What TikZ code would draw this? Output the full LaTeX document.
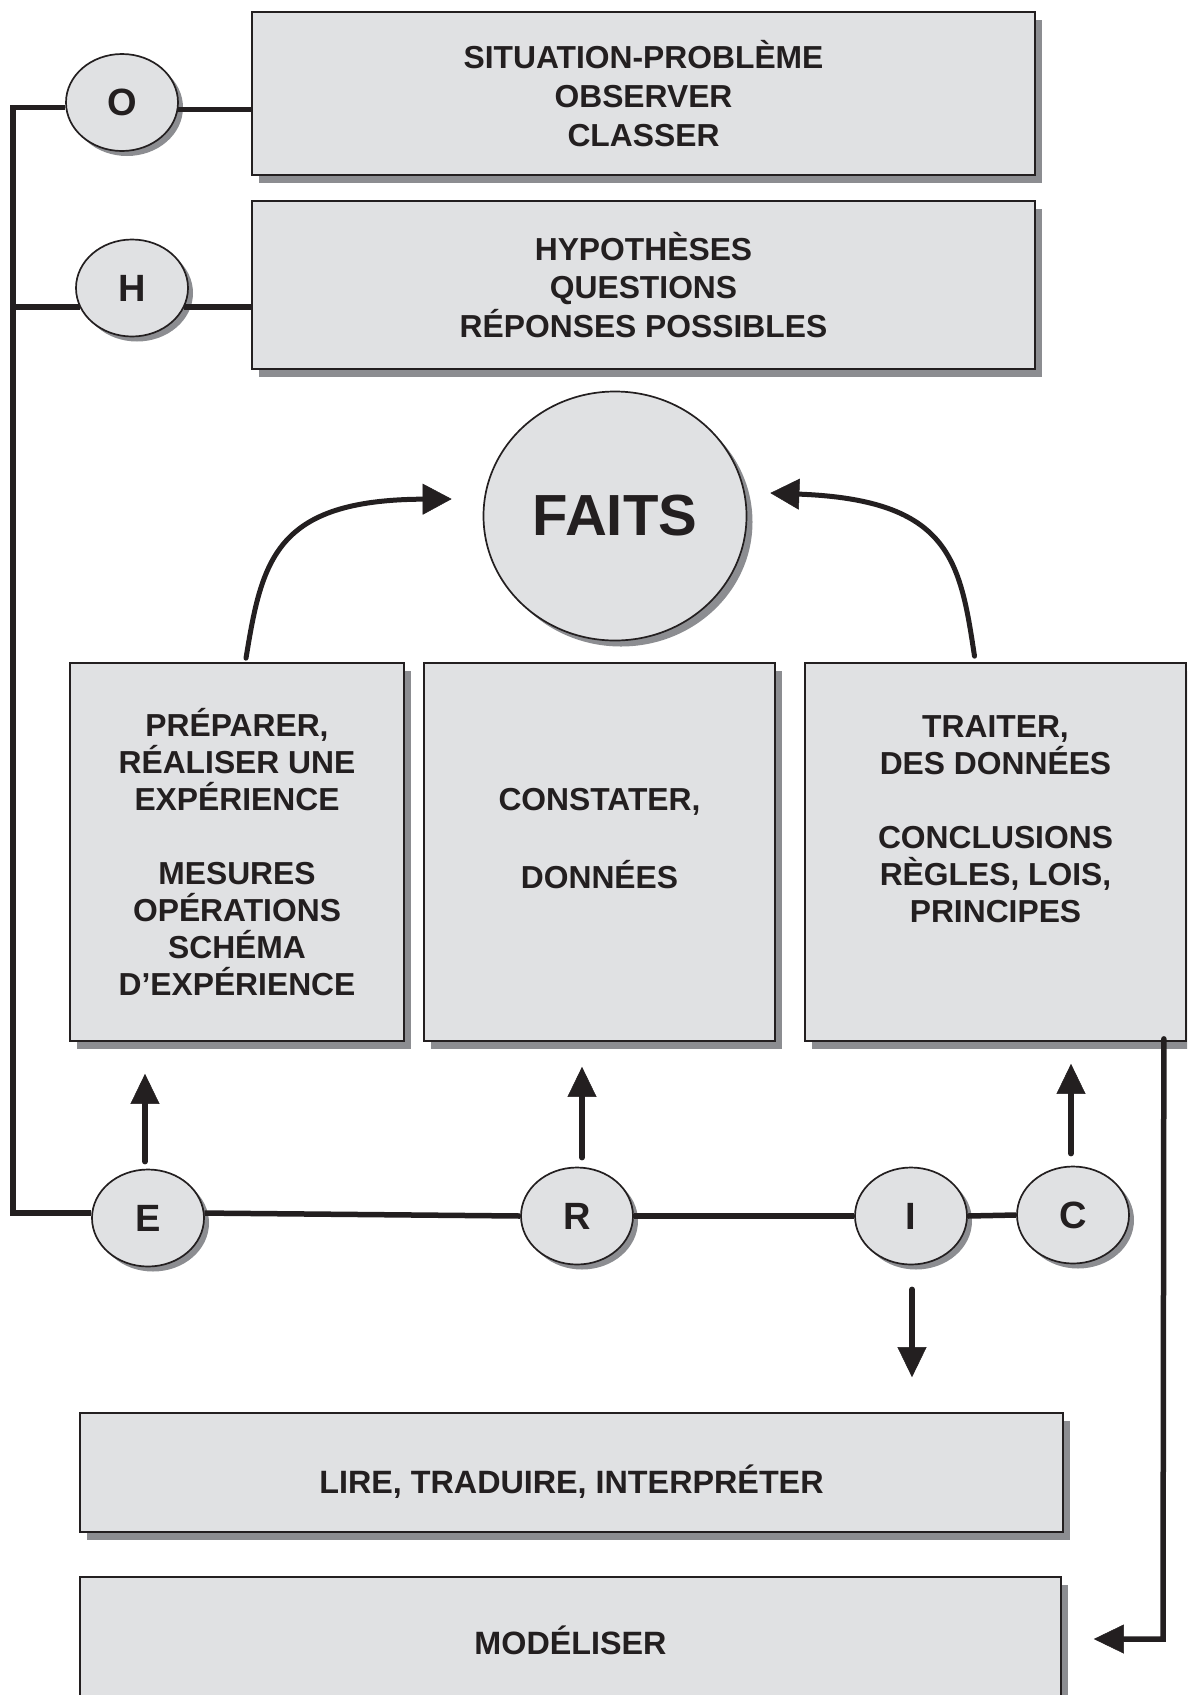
\documentclass[tikz,border=0pt]{standalone}
\usepackage{fontspec}
\setmainfont{Liberation Sans}
\usetikzlibrary{shapes.geometric,shadows,arrows.meta,calc}
\definecolor{boxfill}{RGB}{224,225,227}
\definecolor{shadowgrey}{RGB}{140,141,145}
\definecolor{ink}{RGB}{35,31,32}
\begin{document}
\begin{tikzpicture}[x=1pt,y=-1pt,
  boxshadow/.style={drop shadow={shadow xshift=7pt,shadow yshift=-8pt,opacity=1,fill=shadowgrey}},
  ellshadow/.style={drop shadow={shadow xshift=5pt,shadow yshift=-5pt,opacity=1,fill=shadowgrey}},
  bigshadow/.style={drop shadow={shadow xshift=6pt,shadow yshift=-6pt,opacity=1,fill=shadowgrey}},
  box/.style={rectangle,draw=ink,line width=1.7pt,fill=boxfill,inner sep=0pt,align=center,text=ink,
    font=\fontsize{31.8}{37}\selectfont\bfseries,boxshadow},
  ellbase/.style={ellipse,draw=ink,line width=1.7pt,fill=boxfill,inner sep=0pt,text=ink},
  letter/.style={ellbase,minimum width=112pt,minimum height=97pt,
    font=\fontsize{38}{40}\selectfont\bfseries,ellshadow},
  conn/.style={draw=ink,line width=5.5pt},
  arr/.style={conn,line cap=round,-{Triangle[length=30pt,width=29pt,line width=0.5pt]}},
  curv/.style={draw=ink,line width=5pt,line cap=round,-{Triangle[length=29pt,width=31pt,line width=0.5pt]}},
]
\useasboundingbox (0,0) rectangle (1187,1695);
\clip (0,0) rectangle (1187,1695);

% top boxes
\node[box,minimum width=783pt,minimum height=163pt,font=\fontsize{31.8}{39}\selectfont\bfseries] (sit) at (643.5,93.5)
  {SITUATION-PROBLÈME\\OBSERVER\\CLASSER};
\node[box,minimum width=783pt,minimum height=168pt,font=\fontsize{31.8}{38.5}\selectfont\bfseries] (hyp) at (643.5,285)
  {HYPOTHÈSES\\QUESTIONS\\RÉPONSES POSSIBLES};

% letters
\node[letter] (O) at (122,102.5) {O};
\node[letter] (H) at (132,288) {H};
\node[letter] (E) at (148,1218) {E};
\node[letter] (R) at (577,1216) {R};
\node[letter] (I) at (911,1216) {I};
\node[letter] (C) at (1073,1215) {C};

% FAITS
\node[ellbase,bigshadow,minimum width=263pt,minimum height=249pt,font=\fontsize{58}{60}\selectfont\bfseries] (faits) at (615,516) {FAITS};

% middle boxes
\node[box,minimum width=334pt,minimum height=378pt] (prep) at (237,852)
  {PRÉPARER,\\RÉALISER UNE\\EXPÉRIENCE\\[37pt]MESURES\\OPÉRATIONS\\SCHÉMA\\D’EXPÉRIENCE};
\node[box,minimum width=351pt,minimum height=378pt] (const) at (599.5,852)
  {CONSTATER,\\[41pt]DONNÉES\\[-9pt]\mbox{}};
\node[box,minimum width=381pt,minimum height=378pt] (trait) at (995.5,852)
  {TRAITER,\\DES DONNÉES\\[37pt]CONCLUSIONS\\RÈGLES, LOIS,\\PRINCIPES\\[29pt]\mbox{}};

% bottom boxes
\node[box,minimum width=983pt,minimum height=119pt,text height=47pt,text depth=5pt,
  font=\fontsize{32.3}{38}\selectfont\bfseries] (lire) at (571.5,1472.5)
  {LIRE, TRADUIRE, INTERPRÉTER};
\node[box,minimum width=981pt,minimum height=126pt,
  font=\fontsize{32.3}{38}\selectfont\bfseries] (model) at (570.5,1640)
  {MODÉLISER};

% connectors
\coordinate (lx) at (13,0);
\draw[conn] (O.185) -- (O.185 -| lx) -- (lx |- E.175) -- (E.175);
\draw[conn] (H.200) -- (H.200 -| lx);
\draw[conn] (O.353) -- (O.353 -| sit.west);
\draw[conn] (H.340) -- (H.340 -| hyp.west);
\draw[conn] (E.5) -- (R.west);
\draw[conn] (R.east) -- (I.west);
\draw[conn] (I.east) -- (C.west);

% vertical arrows
\draw[arr] ($(E.north)+(-3,-7)$) -- ($(E.north |- prep.south)+(-3,32)$);
\draw[arr] ($(R.north)+(5,-9)$) -- ($(R.north |- const.south)+(5,25)$);
\draw[arr] ($(C.north)+(-2,-12)$) -- ($(C.north |- trait.south)+(-2,22)$);
\draw[arr] ($(I.south)+(1,24)$) -- ($(I.south |- lire.north)+(1,-35)$);

% right return line
\coordinate (rc) at (1163,1639);
\draw[arr] ($(trait.south east)+(-23,-3)$) -- (rc) -- ($(model.east |- rc)+(32,0)$);

% curved arrows to FAITS
\draw[curv] ($(prep.north)+(9,-4)$) .. controls (262,560) and (275,500) .. ($(faits.west)+(-31,-17)$);
\draw[curv] ($(trait.north)+(-21,-6)$) .. controls (960,560) and (950,500) .. ($(faits.east)+(23,-23)$);
\end{tikzpicture}
\end{document}
